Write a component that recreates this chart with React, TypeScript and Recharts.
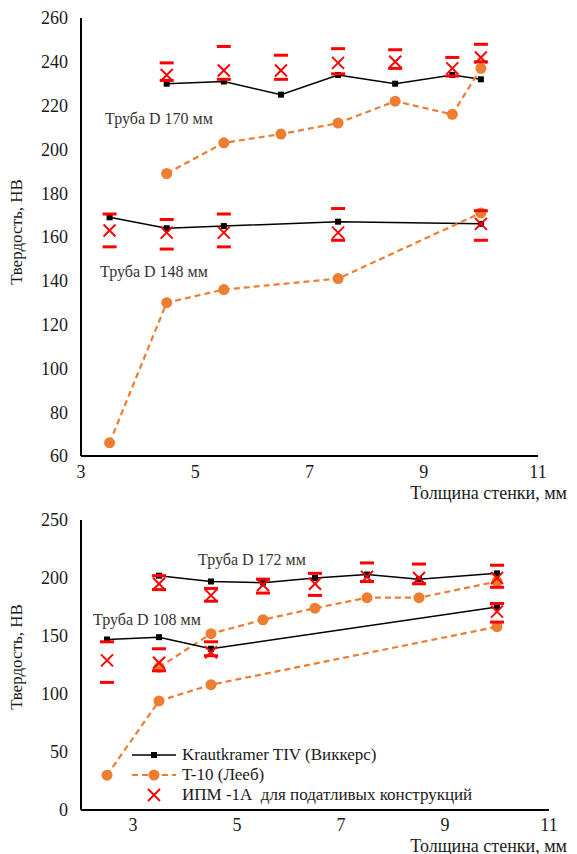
import { ComposedChart, Line, Scatter, XAxis, YAxis } from 'recharts';

const FONT = "'Liberation Serif', 'Times New Roman', Times, Tinos, 'Noto Serif', 'DejaVu Serif', FreeSerif, serif";
const INK = '#000000';
const ORANGE = '#ED7D31';
const RED = '#FF0000';

// upper panel: pipe D 170 mm
const x170 = [4.5, 5.5, 6.5, 7.5, 8.5, 9.5, 10];
const kraut170 = [230, 231, 225, 234, 230, 234, 232];
const leeb170 = [189, 203, 207, 212, 222, 216, 237];
const ipm170 = [234, 236, 236, 239.5, 240, 237, 242];
const ipm170Hi = [239.5, 247, 243, 246, 245.5, 242, 248];
const ipm170Lo = [231.5, 232, 232, 234.5, 237, 233.5, 240];

// upper panel: pipe D 148 mm
const x148 = [3.5, 4.5, 5.5, 7.5, 10];
const kraut148 = [169, 164, 165, 167, 166];
const leeb148 = [66, 130, 136, 141, 171];
const ipm148 = [163, 162, 162, 162, 166];
const ipm148Hi = [170.5, 168, 170.5, 173, 172];
const ipm148Lo = [155.5, 154.5, 155.5, 158.5, 158.5];

// lower panel: pipe D 172 mm
const x172 = [3.5, 4.5, 5.5, 6.5, 7.5, 8.5, 10];
const kraut172 = [202, 197, 196, 200, 203, 199, 204];
const leeb172 = [123, 152, 164, 174, 183, 183, 197];
const ipm172 = [195, 185, 194, 195, 201, 200, 200];
const ipm172Hi = [202, 191, 199, 204, 213, 212, 211];
const ipm172Lo = [190, 180, 187, 185, 197, 195, 192];

// lower panel: pipe D 108 mm
const x108 = [2.5, 3.5, 4.5, 10];
const kraut108 = [147, 149, 139, 175];
const leeb108 = [30, 94, 108, 158];
const ipm108 = [129, 127, 136, 171];
const ipm108Hi = [145, 139, 145, 178];
const ipm108Lo = [110, 120, 133, 162];

const topYTicks = [60, 80, 100, 120, 140, 160, 180, 200, 220, 240, 260];
const bottomYTicks = [0, 50, 100, 150, 200, 250];
const xTicks = [3, 5, 7, 9, 11];

const legendItems = ['Krautkramer TIV (Виккерс)', 'T-10 (Лееб)', 'ИПМ -1А  для податливых конструкций'];

const pts = (xs: number[], ys: number[]) => xs.map((x, i) => ({ x, y: ys[i] }));

const SquareDot = (p: any) =>
  p.cx == null ? null : <rect x={p.cx - 3} y={p.cy - 3} width={6} height={6} fill={INK} />;

const RoundDot = (p: any) =>
  p.cx == null ? null : <circle cx={p.cx} cy={p.cy} r={5.5} fill={ORANGE} />;

const Cross = (p: any) => (
  <g stroke={RED} strokeWidth={2}>
    <line x1={p.cx - 6} y1={p.cy - 6} x2={p.cx + 6} y2={p.cy + 6} />
    <line x1={p.cx - 6} y1={p.cy + 6} x2={p.cx + 6} y2={p.cy - 6} />
  </g>
);

const Cap = (p: any) => (
  <line x1={p.cx - 7} y1={p.cy} x2={p.cx + 7} y2={p.cy} stroke={RED} strokeWidth={3} />
);

function group(id: string, xs: number[], kraut: number[], leeb: number[], ipm: number[], hi: number[], lo: number[]) {
  return [
    <Line key={id + 'k'} data={pts(xs, kraut)} dataKey="y" stroke={INK} strokeWidth={1.5}
      dot={<SquareDot />} activeDot={false} isAnimationActive={false} />,
    <Line key={id + 'l'} data={pts(xs, leeb)} dataKey="y" stroke={ORANGE} strokeWidth={2.2}
      strokeDasharray="6 4" dot={<RoundDot />} activeDot={false} isAnimationActive={false} />,
    <Scatter key={id + 'hi'} data={pts(xs, hi)} dataKey="y" shape={<Cap />} isAnimationActive={false} />,
    <Scatter key={id + 'lo'} data={pts(xs, lo)} dataKey="y" shape={<Cap />} isAnimationActive={false} />,
    <Scatter key={id + 'x'} data={pts(xs, ipm)} dataKey="y" shape={<Cross />} isAnimationActive={false} />,
  ];
}

const tick = { fill: '#1a1a1a', fontSize: 18, fontFamily: FONT };
const axisLine = { stroke: INK, strokeWidth: 2 };

const note = (text: string, left: number, top: number) => (
  <div style={{ position: 'absolute', left, top, transform: 'translateY(-50%)', fontSize: 16, color: '#333', whiteSpace: 'nowrap' }}>
    {text}
  </div>
);

const yTitle = (top: number) => (
  <div style={{ position: 'absolute', left: 17, top, transform: 'translate(-50%,-50%) rotate(-90deg)', fontSize: 17, color: '#1a1a1a', whiteSpace: 'nowrap' }}>
    Твердость, НВ
  </div>
);

const xTitle = (top: number) => (
  <div style={{ position: 'absolute', right: 10, top, transform: 'translateY(-50%)', fontSize: 18, color: '#1a1a1a', whiteSpace: 'nowrap' }}>
    Толщина стенки, мм
  </div>
);

function LegendRow({ kind, label, top }: { kind: number; label: string; top: number }) {
  return (
    <div style={{ position: 'absolute', left: 132, top, transform: 'translateY(-50%)', display: 'flex', alignItems: 'center', whiteSpace: 'pre', fontSize: 17, color: '#1a1a1a' }}>
      <svg width={44} height={16}>
        {kind === 0 && (
          <g>
            <line x1={0} y1={8} x2={44} y2={8} stroke={INK} strokeWidth={1.5} />
            <rect x={19} y={5} width={6} height={6} fill={INK} />
          </g>
        )}
        {kind === 1 && (
          <g>
            <line x1={0} y1={8} x2={44} y2={8} stroke={ORANGE} strokeWidth={2.2} strokeDasharray="6 4" />
            <circle cx={22} cy={8} r={5.5} fill={ORANGE} />
          </g>
        )}
        {kind === 2 && (
          <g stroke={RED} strokeWidth={2}>
            <line x1={16} y1={2} x2={28} y2={14} />
            <line x1={16} y1={14} x2={28} y2={2} />
          </g>
        )}
      </svg>
      <span style={{ marginLeft: 6 }}>{label}</span>
    </div>
  );
}

export default function App() {
  return (
    <div style={{ position: 'absolute', left: 0, top: 0, width: 577, height: 854, background: '#fff', fontFamily: FONT, overflow: 'hidden' }}>
      <div style={{ position: 'absolute', left: 0, top: 0 }}>
        <ComposedChart width={577} height={500} margin={{ top: 18, right: 39, bottom: 14, left: 0 }}>
          <XAxis type="number" dataKey="x" domain={[3, 11]} ticks={xTicks} tick={tick}
            tickSize={0} tickMargin={9} axisLine={axisLine} height={30} allowDataOverflow />
          <YAxis type="number" dataKey="y" domain={[60, 260]} ticks={topYTicks} tick={tick}
            tickSize={0} tickMargin={13} axisLine={axisLine} width={81} allowDataOverflow />
          {group('d170', x170, kraut170, leeb170, ipm170, ipm170Hi, ipm170Lo)}
          {group('d148', x148, kraut148, leeb148, ipm148, ipm148Hi, ipm148Lo)}
        </ComposedChart>
      </div>
      {note('Труба D 170 мм', 105, 119)}
      {note('Труба D 148 мм', 100, 272)}
      {yTitle(232)}
      {xTitle(493)}

      <div style={{ position: 'absolute', left: 0, top: 500 }}>
        <ComposedChart width={577} height={354} margin={{ top: 20, right: 28, bottom: 14, left: 0 }}>
          <XAxis type="number" dataKey="x" domain={[2, 11]} ticks={xTicks} tick={tick}
            tickSize={0} tickMargin={8} axisLine={axisLine} height={30} allowDataOverflow />
          <YAxis type="number" dataKey="y" domain={[0, 250]} ticks={bottomYTicks} tick={tick}
            tickSize={0} tickMargin={13} axisLine={axisLine} width={81} allowDataOverflow />
          {group('d172', x172, kraut172, leeb172, ipm172, ipm172Hi, ipm172Lo)}
          {group('d108', x108, kraut108, leeb108, ipm108, ipm108Hi, ipm108Lo)}
        </ComposedChart>
      </div>
      {note('Труба D 172 мм', 198, 560)}
      {note('Труба D 108 мм', 93, 620)}
      {yTitle(657)}
      {xTitle(846)}
      {legendItems.map((label, i) => (
        <LegendRow key={label} kind={i} label={label} top={755 + i * 20} />
      ))}
    </div>
  );
}
